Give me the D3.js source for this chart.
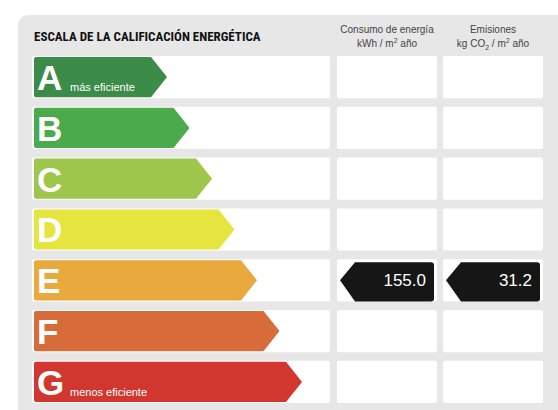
<!DOCTYPE html>
<html><head><meta charset="utf-8">
<script src="https://cdn.jsdelivr.net/npm/d3@7"></script>
<style>body{margin:0;background:#fff}svg{display:block}</style>
</head><body>
<svg id="chart" width="558" height="410"></svg>
<script>
const grades = ["A", "B", "C", "D", "E", "F", "G"];
const gradeColors = ["#3b8c48", "#4aaa4c", "#9dc64b", "#e6e43f", "#e9a93c", "#d86b3a", "#d2372f"];
const gradeNotes = { A: "más eficiente", G: "menos eficiente" };
const ratedGrade = "E";
const consumo = 155.0;
const emisiones = 31.2;

const svg = d3.select("#chart");
const font = "Helvetica, Arial, 'Liberation Sans', sans-serif";

svg.append("rect").attr("x", 18).attr("y", 15).attr("width", 560).attr("height", 420)
  .attr("rx", 10).attr("fill", "#e7e7e7");

const y = d3.scaleBand().domain(grades).range([56, 403]).paddingInner(0.17);
const tip = d3.scaleLinear().domain([0, 6]).range([167, 302]);

svg.append("text").attr("x", 34).attr("y", 41).text("ESCALA DE LA CALIFICACIÓN ENERGÉTICA")
  .attr("font-family", "'Liberation Sans Narrow', 'Roboto Condensed', Arial Narrow, sans-serif")
  .attr("font-stretch", "condensed").attr("font-weight", "bold").attr("font-size", 13).attr("fill", "#111");

const cols = [{ x: 337, w: 100 }, { x: 443, w: 100 }];
const hdr = svg.append("g").attr("font-family", font).attr("font-size", 10).attr("fill", "#444").attr("text-anchor", "middle");
const h1 = hdr.append("text").attr("x", 387);
h1.append("tspan").attr("x", 387).attr("y", 33).text("Consumo de energía");
const t1 = h1.append("tspan").attr("x", 387).attr("y", 47).text("kWh / m");
t1.append("tspan").attr("font-size", 7).attr("dy", -4).text("2");
t1.append("tspan").attr("dy", 4).text(" año");
const h2 = hdr.append("text");
h2.append("tspan").attr("x", 493).attr("y", 33).text("Emisiones");
const t2 = h2.append("tspan").attr("x", 493).attr("y", 47).text("kg CO");
t2.append("tspan").attr("font-size", 7).attr("dy", 3).text("2");
t2.append("tspan").attr("dy", -3).text(" / m");
t2.append("tspan").attr("font-size", 7).attr("dy", -4).text("2");
t2.append("tspan").attr("dy", 4).text(" año");

const rows = svg.selectAll("g.row").data(grades).join("g").attr("class", "row")
  .attr("transform", d => `translate(0,${y(d)})`);
const h = y.bandwidth();
rows.append("rect").attr("x", 32).attr("width", 298).attr("height", h).attr("rx", 2).attr("fill", "#fff");
cols.forEach(c => rows.append("rect").attr("x", c.x).attr("width", c.w).attr("height", h).attr("rx", 2).attr("fill", "#fff"));

rows.append("path").attr("fill", (d, i) => gradeColors[i])
  .attr("d", (d, i) => {
    const t = tip(i), b = t - 16;
    return `M36,1 H${b} L${t},${h / 2} L${b},${h - 1} H36 Q34,${h - 1} 34,${h - 3} V3 Q34,1 36,1 Z`;
  });
rows.append("text").attr("x", 37).attr("y", h / 2 + 13).text(d => d)
  .attr("font-family", font).attr("font-weight", "bold").attr("font-size", 35).attr("fill", "#fff");
rows.filter(d => gradeNotes[d]).append("text").attr("x", 70).attr("y", h - 7).text(d => gradeNotes[d])
  .attr("font-family", font).attr("font-size", 11).attr("fill", "#fff");

const rated = rows.filter(d => d === ratedGrade);
[consumo.toFixed(1), emisiones.toFixed(1)].forEach((v, i) => {
  const x0 = cols[i].x + 3, x1 = cols[i].x + cols[i].w - 3;
  rated.append("path").attr("fill", "#161616")
    .attr("d", `M${x0},${h / 2} L${x0 + 15},3 H${x1 - 3} Q${x1},3 ${x1},6 V${h - 3} Q${x1},${h} ${x1 - 3},${h} H${x0 + 15} Z`);
  rated.append("text").attr("x", x1 - 8).attr("y", h / 2 + 6).attr("text-anchor", "end").text(v)
    .attr("font-family", font).attr("font-size", 17).attr("fill", "#fff");
});
</script>
</body></html>
